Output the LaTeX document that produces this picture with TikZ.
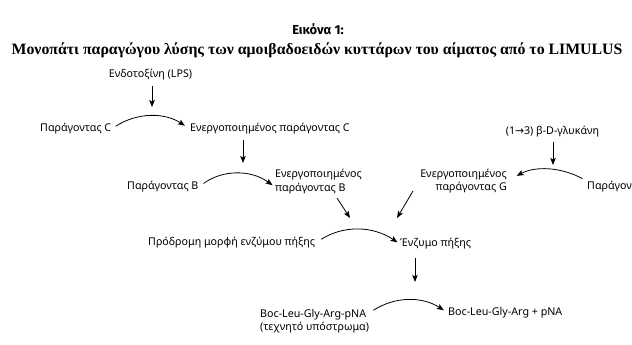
\documentclass[tikz,border=0pt]{standalone}
\usepackage{fontspec}
\setmainfont{Noto Sans}
\newfontfamily\titleserif{Liberation Serif}
\newfontfamily\figsans{Fira Sans}
\newfontfamily\dejavu{DejaVu Sans}
\usetikzlibrary{arrows.meta}
\begin{document}
\begin{tikzpicture}[x=1pt,y=1pt,
  lbl/.style={font=\fontsize{10.7}{14}\selectfont, inner sep=0pt, text height=8pt, text depth=2.5pt},
  lbltwo/.style={font=\fontsize{10.7}{13.5}\selectfont, inner sep=0pt},
  arr/.style={line width=0.8pt, -{Stealth[length=7pt,width=5.5pt,inset=1.5pt]}},
]
\useasboundingbox (0,0) rectangle (632,-345);
\clip (0,0) rectangle (632,-345);
% titles
\node[font=\figsans\bfseries\fontsize{13}{15}\selectfont, inner sep=0pt] (fig) at (318,-29) {Εικόνα 1:};
\node[font=\titleserif\bfseries\fontsize{15.8}{18}\selectfont, inner sep=0pt] (title) at (317,-50)
  {Μονοπάτι παραγώγου λύσης των αμοιβαδοειδών κυττάρων του αίματος από το LIMULUS};
% labels
\node[lbl] (lps) at (150.5,-75) {Ενδοτοξίνη (LPS)};
\node[lbl, anchor=west] (pc) at (40,-129) {Παράγοντας C};
\node[lbl, anchor=west] (apc) at (190,-129) {Ενεργοποιημένος παράγοντας C};
\node[lbl, anchor=west] (pb) at (127,-187) {Παράγοντας B};
\node[lbltwo, anchor=west, align=left] (apb) at (275,-181.5) {Ενεργοποιημένος\\παράγοντας B};
\node[lbl] (glu) at (552.5,-132) {(1{\dejavu→}3) β-D-γλυκάνη};
\node[lbltwo, anchor=east, align=right] (apg) at (507,-181) {Ενεργοποιημένος\\παράγοντας G};
\node[lbl, anchor=west] (pg) at (587,-187) {Παράγοντας G};
\node[lbl, anchor=west] (pro) at (148,-243) {Πρόδρομη μορφή ενζύμου πήξης};
\node[lbl, anchor=west] (enz) at (400,-244) {Ένζυμο πήξης};
\node[lbltwo, anchor=west, align=left] (boc) at (260,-321) {Boc-Leu-Gly-Arg-pNA\\(τεχνητό υπόστρωμα)};
\node[lbl, anchor=west] (prod) at (448,-313) {Boc-Leu-Gly-Arg + pNA};
% target points of straight arrows
\coordinate (c1) at (152,-107);
\coordinate (c2) at (243,-163);
\coordinate (c3) at (553,-165);
\coordinate (c4) at (415,-282);
\coordinate (b1) at (337,-198);
\coordinate (b2) at (350,-218);
\coordinate (g1) at (413,-191);
\coordinate (g2) at (397,-218);
% straight arrows
\draw[arr, shorten <=6pt] (lps.south -| c1) -- (c1);
\draw[arr, shorten <=5.5pt] (apc.south -| c2) -- (c2);
\draw[arr, shorten <=4.5pt] (glu.south -| c3) -- (c3);
\draw[arr, shorten <=8.5pt] (enz.south -| c4) -- (c4);
\draw[arr] (b1) -- (b2);
\draw[arr] (g1) -- (g2);
% curved arrows
\draw[arr, shorten <=5pt, shorten >=6pt] (pc.east) to[bend left=33] (apc.west);
\draw[arr, shorten <=6pt, shorten >=3pt] (pb.east) to[bend left=36] (pb.east -| apb.west);
\draw[arr, shorten <=5pt, shorten >=11pt] ([yshift=6pt]pg.west) to[bend right=28] (apg.east);
\draw[arr, shorten <=7pt, shorten >=3pt] (pro.east) to[bend left=33] (enz.west);
\draw[arr, shorten <=5pt, shorten >=5pt] (prod.west -| boc.east) to[bend left=33] (prod.west);
\end{tikzpicture}
\end{document}
